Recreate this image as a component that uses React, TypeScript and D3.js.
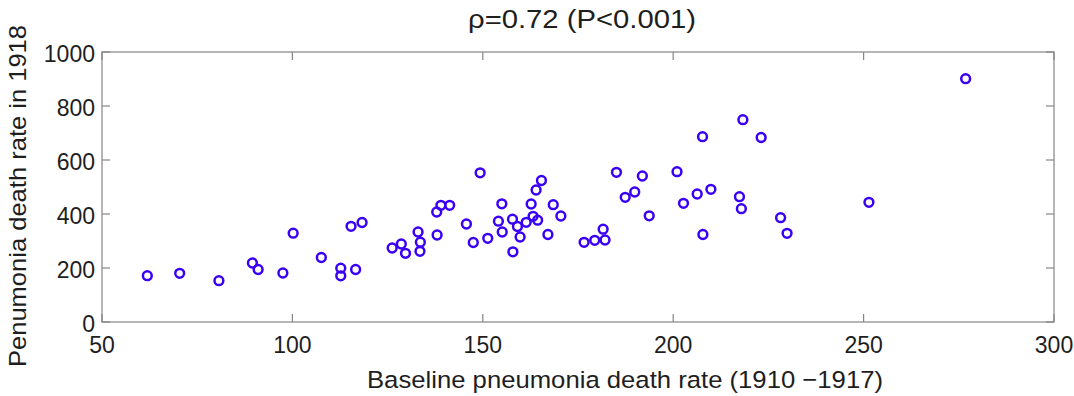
import React from "react";
import * as d3 from "d3";

const baseline: number[] = [
  61.9, 70.4, 80.7, 89.5, 91.0, 97.5, 100.2, 107.6, 112.7, 112.7, 116.6, 115.4, 118.3,
  126.2, 128.6, 129.7, 133.0, 133.6, 133.5, 138.0, 137.9, 139.0, 141.3, 145.7, 147.5,
  151.3, 149.3, 155.0, 154.1, 155.1, 157.8, 159.1, 159.8, 157.9, 161.4, 162.7, 163.2,
  164.4, 164.0, 165.4, 167.1, 168.5, 170.5, 176.6, 179.4, 182.1, 181.6, 185.1, 191.9,
  187.4, 189.9, 193.7, 201.0, 202.7, 206.3, 209.9, 207.8, 217.4, 217.9, 228.2, 229.9,
  207.7, 218.3, 223.1, 251.4, 276.8,
];
const rate1918: number[] = [
  171.5, 180.4, 153, 218.5, 194.4, 181.5, 328.9, 238.9, 199.3, 171.1, 194.4, 354.4, 368.5,
  274, 288.9, 254.4, 333.3, 295.6, 261.9, 322.2, 407.4, 432.2, 432.2, 363, 294.4,
  310, 552.6, 437.8, 373.3, 333.3, 380.7, 353.7, 314.8, 260, 369.3, 437, 391.5,
  377, 488.9, 524, 324, 434.4, 392.6, 295.2, 302.6, 303.7, 343.7, 554.4, 540.7,
  461.9, 481.5, 393.3, 556.7, 439.6, 474.1, 491.5, 324.1, 464.1, 419.6, 386.3, 328.5,
  686.3, 749.3, 683.3, 443.3, 901.1,
];
const xTicks: number[] = [50, 100, 150, 200, 250, 300];
const yTicks: number[] = [0, 200, 400, 600, 800, 1000];
const titleText = "ρ=0.72 (P<0.001)";
const xLabel = "Baseline pneumonia death rate (1910 −1917)";
const yLabel = "Penumonia death rate in 1918";

const W = 1074;
const H = 396;
const left = 102;
const right = 1054;
const top = 52;
const bottom = 322;

export default function App() {
  const x = d3.scaleLinear().domain([50, 300]).range([left, right]);
  const y = d3.scaleLinear().domain([0, 1000]).range([bottom, top]);
  const axisColor = "#858585";
  const textColor = "#1e1e1e";
  const font = "'Liberation Sans', Arial, Helvetica, sans-serif";
  const tickLen = 8;
  const pts = baseline.map((b, i) => [b, rate1918[i]] as [number, number]);

  return (
    <svg
      width={W}
      height={H}
      style={{ position: "absolute", left: 0, top: 0, background: "#fff" }}
      fontFamily={font}
    >
      <rect x={0} y={0} width={W} height={H} fill="#fff" />
      {/* frame */}
      <rect
        x={left}
        y={top}
        width={right - left}
        height={bottom - top}
        fill="none"
        stroke={axisColor}
        strokeWidth={1.2}
      />
      {/* x ticks */}
      {xTicks.map((t) => (
        <g key={"xt" + t}>
          <line x1={x(t)} x2={x(t)} y1={bottom} y2={bottom - tickLen} stroke={axisColor} strokeWidth={1.2} />
          <line x1={x(t)} x2={x(t)} y1={top} y2={top + tickLen} stroke={axisColor} strokeWidth={1.2} />
          <text
            x={x(t)}
            y={bottom + 30.5}
            textAnchor="middle"
            fontSize={23}
            fill={textColor}
          >
            {t}
          </text>
        </g>
      ))}
      {/* y ticks */}
      {yTicks.map((t) => (
        <g key={"yt" + t}>
          <line x1={left} x2={left + tickLen} y1={y(t)} y2={y(t)} stroke={axisColor} strokeWidth={1.2} />
          <line x1={right} x2={right - tickLen} y1={y(t)} y2={y(t)} stroke={axisColor} strokeWidth={1.2} />
          <text
            x={95}
            y={y(t) + 9.5}
            textAnchor="end"
            fontSize={23}
            fill={textColor}
          >
            {t}
          </text>
        </g>
      ))}
      {/* points */}
      {pts.map(([a, b], i) => (
        <circle
          key={i}
          cx={x(a)}
          cy={y(b)}
          r={4.4}
          fill="none"
          stroke="#3a00f5"
          strokeWidth={2.5}
        />
      ))}
      {/* title */}
      <text
        x={582}
        y={28}
        textAnchor="middle"
        fontSize={25}
        fill={textColor}
        textLength={228}
        lengthAdjust="spacingAndGlyphs"
      >
        {titleText}
      </text>
      {/* x label */}
      <text
        x={625}
        y={388}
        textAnchor="middle"
        fontSize={24.5}
        fill={textColor}
        textLength={516}
        lengthAdjust="spacingAndGlyphs"
      >
        {xLabel}
      </text>
      {/* y label */}
      <text
        transform={`translate(26,196) rotate(-90)`}
        textAnchor="middle"
        fontSize={24.5}
        fill={textColor}
        textLength={342}
        lengthAdjust="spacingAndGlyphs"
      >
        {yLabel}
      </text>
    </svg>
  );
}
